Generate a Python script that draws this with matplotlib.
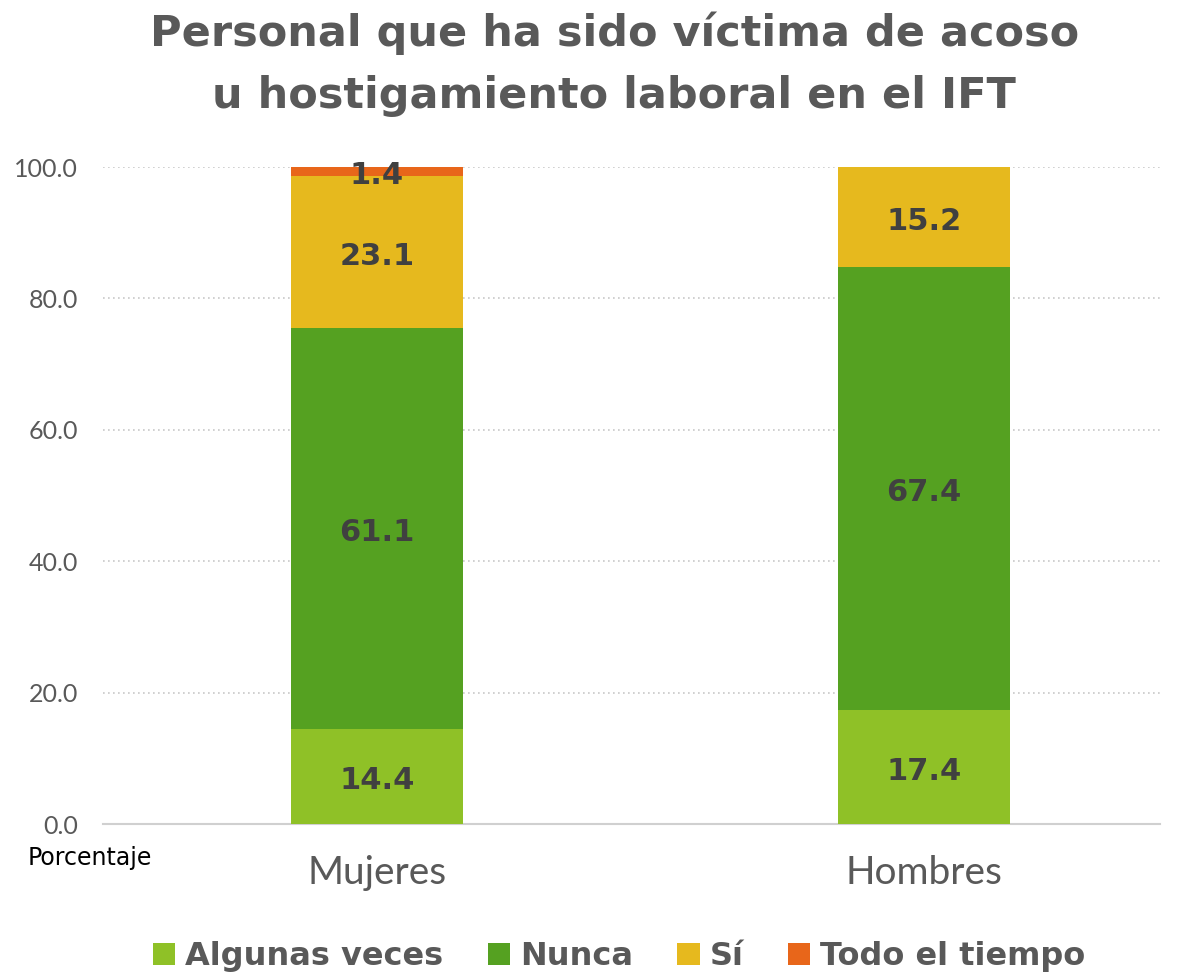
import matplotlib.pyplot as plt
import numpy as np

grupos = ["Mujeres", "Hombres"]
series = ["Algunas veces", "Nunca", "Sí", "Todo el tiempo"]
algunas_veces = [14.4, 17.4]
nunca = [61.1, 67.4]
si = [23.1, 15.2]
todo_el_tiempo = [1.4, 0.0]
colores = ["#8FC127", "#55A121", "#E6B91E", "#E8661A"]

plt.rcParams['font.family'] = ['Lato', 'DejaVu Sans']
negrita = ['DejaVu Sans']

fig = plt.figure(figsize=(11.86, 9.74), dpi=100)
ax = fig.add_axes([0.0868, 0.154, 0.891, 0.6745])

x = np.arange(len(grupos))
ancho = 0.314
base = np.zeros(len(grupos))
for nombre, valores, color in zip(series, [algunas_veces, nunca, si, todo_el_tiempo], colores):
    valores = np.array(valores)
    ax.bar(x, valores, ancho, bottom=base, color=color, label=nombre, zorder=3)
    for xi, b, v in zip(x, base, valores):
        if v > 0:
            ax.annotate(f"{v:.1f}", (xi, b + v / 2), xytext=(0, -3), textcoords="offset points",
                        ha="center", va="center", family=negrita,
                        fontsize=22, fontweight="bold", color="#404040", zorder=4)
    base += valores

ax.set_xlim(-0.501, 1.431)
ax.set_ylim(0, 100)
ax.set_yticks(np.arange(0, 101, 20))
ax.set_yticklabels([f"{v:.1f}" for v in np.arange(0, 101, 20)], fontsize=18, color="#595959")
ax.set_xticks(x)
ax.set_xticklabels(grupos, fontsize=28, color="#595959")
ax.tick_params(axis="both", length=0)
ax.tick_params(axis="x", pad=22)
ax.tick_params(axis="y", pad=18)
ax.yaxis.grid(True, linestyle=(0, (1, 2)), color="#C8C8C8", linewidth=1.2, zorder=0)
for lado in ["top", "right", "left"]:
    ax.spines[lado].set_visible(False)
ax.spines["bottom"].set_color("#D0D0D0")
ax.spines["bottom"].set_linewidth(1.5)

fig.text(0.518, 0.988, "Personal que ha sido víctima de acoso\nu hostigamiento laboral en el IFT",
         ha="center", va="top", fontsize=31, fontweight="bold", color="#595959",
         linespacing=1.6, family=negrita)
fig.text(0.023, 0.119, "Porcentaje", fontsize=17, color="#000000", va="center", family=negrita)

leg = fig.legend(loc="center", bbox_to_anchor=(0.522, 0.018), ncol=4, frameon=False,
                 prop={"size": 23, "weight": "bold", "family": negrita},
                 handlelength=0.7, handleheight=0.7, handletextpad=0.3, columnspacing=1.4)
for t in leg.get_texts():
    t.set_color("#595959")

fig.savefig("out.png", dpi=100)
